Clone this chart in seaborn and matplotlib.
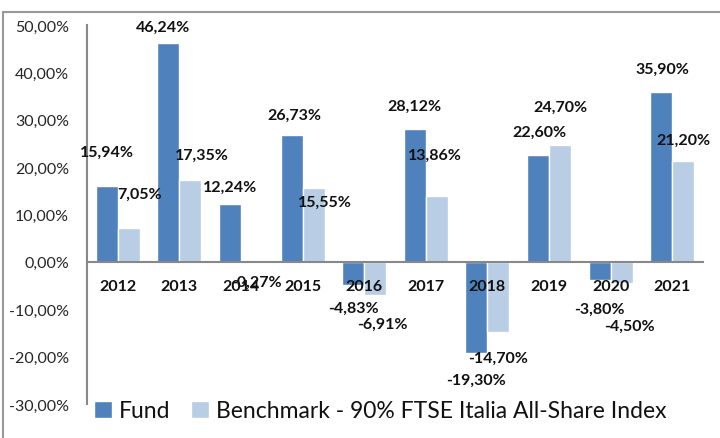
import matplotlib
matplotlib.use("Agg")
import matplotlib.pyplot as plt
import seaborn as sns
import pandas as pd
from matplotlib.lines import Line2D
from matplotlib.ticker import FuncFormatter, FixedLocator

years = ["2012", "2013", "2014", "2015", "2016", "2017", "2018", "2019", "2020", "2021"]
fund = [15.94, 46.24, 12.24, 26.73, -4.83, 28.12, -19.30, 22.60, -3.80, 35.90]
benchmark = [7.05, 17.35, -0.27, 15.55, -6.91, 13.86, -14.70, 24.70, -4.50, 21.20]
series_names = ["Fund", "Benchmark - 90% FTSE Italia All-Share Index"]

# label placement offsets (layout only): (dx in category units, dy in data units)
fund_dx = [0.0, -0.08, 0.0, 0.05, 0.0, 0.0, 0.0, 0.02, 0.0, 0.02]
fund_dy = [7.3, 3.4, 3.7, 4.3, -4.9, 4.8, -5.5, 4.9, -6.0, 4.8]
bench_dx = [0.18, 0.18, 0.08, 0.18, 0.12, -0.03, 0.0, 0.0, 0.13, 0.0]
bench_dy = [7.35, 5.15, -3.9, -2.85, -6.1, 8.8, -5.6, 8.1, -9.0, 4.6]

df = pd.DataFrame({
    "year": years * 2,
    "value": fund + benchmark,
    "series": [series_names[0]] * len(years) + [series_names[1]] * len(years),
})

sns.set_style("white")
plt.rcParams["font.family"] = ["Lato", "DejaVu Sans"]

fig = plt.figure(figsize=(7.2, 4.39), dpi=100)
ax = fig.add_axes([87 / 720, 1 - 405 / 439, (703 - 87) / 720, (405 - 26) / 439])

colors = ["#4F81BD", "#B9CDE5"]
sns.barplot(data=df, x="year", y="value", hue="series", palette=colors,
            width=0.714, ax=ax, saturation=1, legend=True)

for s in ["top", "right"]:
    ax.spines[s].set_visible(False)
ax.spines["bottom"].set_position(("data", 0))
ax.spines["bottom"].set_color("#888888")
ax.spines["bottom"].set_linewidth(1.5)
ax.spines["left"].set_color("#888888")
ax.spines["left"].set_linewidth(1.5)
ax.set_axisbelow(False)

ax.set_ylim(-30, 50)
ax.set_xlim(-0.5, 9.5)
ax.yaxis.set_major_locator(FixedLocator(range(-30, 51, 10)))
ax.yaxis.set_major_formatter(FuncFormatter(lambda v, p: f"{v:.2f}%".replace(".", ",")))
ax.tick_params(axis="y", length=0, pad=13, labelsize=11.5, labelcolor="#262626")
ax.tick_params(axis="x", length=0, pad=12)
ax.set_xticks(range(len(years)))
ax.set_xticklabels(years, fontweight="bold", fontsize=11.5, color="#111111")
ax.set_xlabel("")
ax.set_ylabel("")

def fmt(v):
    return f"{v:.2f}%".replace(".", ",")

off = 0.714 / 4
for i, v in enumerate(fund):
    ax.text(i - off + fund_dx[i], v + fund_dy[i], fmt(v), ha="center", va="center",
            fontsize=11.5, fontweight="bold", color="#111111", zorder=5)
for i, v in enumerate(benchmark):
    ax.text(i + off + bench_dx[i], v + bench_dy[i], fmt(v), ha="center", va="center",
            fontsize=11.5, fontweight="bold", color="#111111", zorder=5)

leg = ax.legend(loc="center left", bbox_to_anchor=(-0.004, -0.018), ncol=2, frameon=False,
                fontsize=16.5, handlelength=0.8, handleheight=0.8, handletextpad=0.3,
                columnspacing=0.9, borderaxespad=0)
for t in leg.get_texts():
    t.set_color("#111111")

fig.add_artist(Line2D([3 / 720, 3 / 720], [0, 1 - 13 / 439], color="#999999", lw=1.5,
                      transform=fig.transFigure))
fig.add_artist(Line2D([3 / 720, 1], [1 - 13 / 439, 1 - 13 / 439], color="#999999", lw=1.5,
                      transform=fig.transFigure))

fig.savefig("out.png", dpi=100)
